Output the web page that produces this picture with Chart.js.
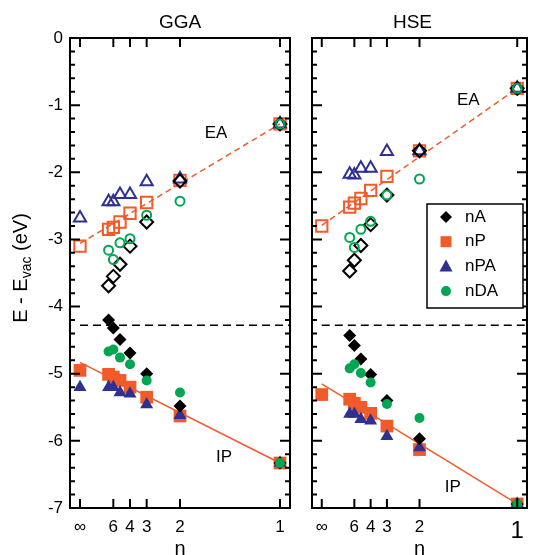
<!DOCTYPE html>
<html>
<head>
<meta charset="utf-8">
<script src="https://cdn.jsdelivr.net/npm/chart.js@4.4.0/dist/chart.umd.min.js"></script>
<style>
  body { margin: 0; background: #fff; }
  #wrap { position: relative; width: 537px; height: 555px; overflow: hidden; font-family: "Liberation Sans", Arial, sans-serif; }
  canvas { position: absolute; top: 0; }
  #ylab { position: absolute; left: -80px; top: 256px; width: 200px; height: 24px; line-height: 24px; text-align: center;
          font-size: 20px; color: #000; transform: rotate(-90deg); white-space: nowrap; }
  #ylab sub { font-size: 14px; line-height: 0; vertical-align: -4px; }
</style>
</head>
<body>
<div id="wrap">
  <canvas id="gga" width="300" height="555" style="left:0"></canvas>
  <canvas id="hse" width="247" height="555" style="left:290px"></canvas>
  <div id="ylab">E - E<sub>vac</sub> (eV)</div>
</div>
<script>
// chain length n for every point (x axis is 1/n, infinity at 0)
const nValues = [Infinity, 7, 6, 5, 4, 3, 2, 1];
const xTickN = [Infinity, 6, 4, 3, 2, 1];
const xTickLabels = ['∞', '6', '4', '3', '2', '1'];
const yTickValues = [0, -1, -2, -3, -4, -5, -6, -7];
const species = ['nA', 'nP', 'nPA', 'nDA'];

// GGA electron affinities (open markers)
const ggaEA_nA  = [null, -3.69, -3.55, -3.37, -3.10, -2.74, -2.13, -1.28];
const ggaEA_nP  = [-3.10, -2.85, -2.82, -2.74, -2.61, -2.45, -2.12, -1.28];
const ggaEA_nPA = [-2.68, -2.44, -2.44, -2.33, -2.33, -2.14, -2.10, -1.28];
const ggaEA_nDA = [null, -3.16, -3.30, -3.05, -2.99, -2.64, -2.43, -1.28];
// GGA ionisation potentials (filled markers)
const ggaIP_nA  = [null, -4.20, -4.32, -4.49, -4.69, -5.00, -5.48, -6.33];
const ggaIP_nP  = [-4.95, -5.01, -5.05, -5.10, -5.20, -5.35, -5.63, -6.33];
const ggaIP_nPA = [-5.20, -5.20, -5.20, -5.28, -5.30, -5.46, -5.62, -6.33];
const ggaIP_nDA = [null, -4.67, -4.64, -4.76, -4.86, -5.10, -5.28, -6.33];

// HSE
const hseEA_nA  = [null, -3.47, -3.31, -3.09, -2.78, -2.34, -1.68, -0.75];
const hseEA_nP  = [-2.80, -2.52, -2.46, -2.39, -2.27, -2.06, -1.68, -0.75];
const hseEA_nPA = [null, -2.03, -2.04, -1.94, -1.94, -1.69, -1.68, -0.75];
const hseEA_nDA = [null, -2.97, -3.12, -2.85, -2.73, -2.34, -2.10, -0.75];
const hseIP_nA  = [null, -4.43, -4.58, -4.78, -5.01, -5.40, -5.97, -6.94];
const hseIP_nP  = [-5.31, -5.38, -5.44, -5.50, -5.59, -5.78, -6.13, -6.94];
const hseIP_nPA = [null, -5.60, -5.60, -5.68, -5.70, -5.93, -6.10, -6.94];
const hseIP_nDA = [null, -4.92, -4.86, -4.99, -5.13, -5.45, -5.66, -6.94];

// fitted lines (value at 1/n = 0 and 1/n = 1)
const lineX = [0, 1];
const ggaEALine = [-3.06, -1.28];
const ggaIPLine = [-4.83, -6.33];
const hseEALine = [-2.79, -0.75];
const hseIPLine = [-5.15, -6.94];
const levelX = [0, 1.05];
const levelY = [-4.28, -4.28];

const ORANGE = '#f15a29';
const BLUE = '#2e3192';
const GREEN = '#00a651';

const style = {
  nA:  { shape: 'rectRot',  color: '#000', rOpen: 6.5, rFill: 6.5 },
  nP:  { shape: 'rect',     color: ORANGE, rOpen: 8,   rFill: 9 },
  nPA: { shape: 'triangle', color: BLUE,   rOpen: 7,   rFill: 7.5 },
  nDA: { shape: 'circle',   color: GREEN,  rOpen: 4.5, rFill: 5 }
};
const drawOrder = ['nDA', 'nA', 'nPA', 'nP']; // first = top-most

const invN = n => (n === Infinity ? 0 : 1 / n);
const toPoints = vals => nValues.map((n, i) => ({ x: invN(n), y: vals[i] })).filter(p => p.y !== null);
const toLine = (xs, ys) => xs.map((x, i) => ({ x, y: ys[i] }));

function buildDatasets(ea, ip, eaLine, ipLine) {
  const sets = [];
  drawOrder.forEach(sp => {
    const s = style[sp];
    sets.push({ label: sp + ' EA', data: toPoints(ea[sp]), pointStyle: s.shape, pointRadius: s.rOpen,
      pointBorderColor: s.color, pointBackgroundColor: 'rgba(0,0,0,0)', pointBorderWidth: 2 });
    sets.push({ label: sp + ' IP', data: toPoints(ip[sp]), pointStyle: s.shape, pointRadius: s.rFill,
      pointBorderColor: s.color, pointBackgroundColor: s.color, pointBorderWidth: 0 });
  });
  sets.push({ label: 'EA fit', data: toLine(lineX, eaLine), showLine: true, borderColor: ORANGE, borderWidth: 1.5,
    borderDash: [6, 4], pointRadius: 0 });
  sets.push({ label: 'IP fit', data: toLine(lineX, ipLine), showLine: true, borderColor: ORANGE, borderWidth: 1.5,
    pointRadius: 0 });
  sets.push({ label: 'level', data: toLine(levelX, levelY), showLine: true, borderColor: '#000', borderWidth: 1.5,
    borderDash: [8, 5], pointRadius: 0 });
  return sets;
}

function drawMarker(ctx, shape, x, y, color) {
  ctx.fillStyle = color;
  ctx.beginPath();
  if (shape === 'rectRot') { ctx.moveTo(x, y - 6); ctx.lineTo(x + 6, y); ctx.lineTo(x, y + 6); ctx.lineTo(x - 6, y); }
  else if (shape === 'rect') ctx.rect(x - 5.5, y - 5.5, 11, 11);
  else if (shape === 'triangle') { ctx.moveTo(x, y - 7); ctx.lineTo(x + 6.5, y + 5); ctx.lineTo(x - 6.5, y + 5); }
  else ctx.arc(x, y, 5, 0, Math.PI * 2);
  ctx.closePath();
  ctx.fill();
}

const framePlugin = {
  id: 'frame',
  afterDatasetsDraw(chart, args, opts) {
    const { ctx, chartArea: a, scales: { x, y } } = chart;
    ctx.save();
    ctx.strokeStyle = '#000';
    ctx.lineWidth = 2;
    ctx.beginPath();
    for (let i = 0; i <= 35; i++) {
      const py = y.getPixelForValue(-i / 5);
      const len = i % 5 === 0 ? 10 : 5;
      ctx.moveTo(a.left, py); ctx.lineTo(a.left + len, py);
      ctx.moveTo(a.right, py); ctx.lineTo(a.right - len, py);
    }
    xTickN.forEach(n => {
      const px = x.getPixelForValue(invN(n));
      ctx.moveTo(px, a.bottom); ctx.lineTo(px, a.bottom - 9);
      ctx.moveTo(px, a.top); ctx.lineTo(px, a.top + 9);
    });
    ctx.stroke();
    ctx.strokeRect(a.left, a.top, a.right - a.left, a.bottom - a.top);

    ctx.fillStyle = '#000';
    ctx.textAlign = 'center';
    ctx.textBaseline = 'middle';
    ctx.font = '17px "Liberation Sans", Arial, sans-serif';
    opts.notes.forEach(nt => ctx.fillText(nt.text, x.getPixelForValue(nt.x), y.getPixelForValue(nt.y)));
    ctx.font = '19px "Liberation Sans", Arial, sans-serif';
    ctx.fillText(opts.title, (a.left + a.right) / 2 + opts.titleShift, 23);

    if (opts.legend) {
      const bx = a.left + 115, by = 204;
      ctx.fillStyle = '#fff';
      ctx.fillRect(bx, by, 96, 104);
      ctx.lineWidth = 1.5;
      ctx.strokeRect(bx, by, 96, 104);
      ctx.textAlign = 'left';
      ctx.font = '17px "Liberation Sans", Arial, sans-serif';
      species.forEach((sp, i) => {
        const ry = by + 13 + i * 24.7;
        drawMarker(ctx, style[sp].shape, bx + 19, ry, style[sp].color);
        ctx.fillStyle = '#000';
        ctx.fillText(sp, bx + 38, ry);
      });
    }
    ctx.restore();
  }
};

function makeChart(id, datasets, panel) {
  return new Chart(document.getElementById(id), {
    type: 'scatter',
    data: { datasets },
    plugins: [framePlugin],
    options: {
      responsive: false,
      animation: false,
      events: [],
      layout: { padding: { top: 38, right: panel.padRight, bottom: 0, left: 0 } },
      plugins: {
        legend: { display: false },
        tooltip: { enabled: false },
        frame: { notes: panel.notes, title: panel.title, titleShift: panel.titleShift, legend: panel.legend }
      },
      scales: {
        x: {
          type: 'linear', min: -0.05, max: 1.05,
          afterBuildTicks: s => { s.ticks = xTickN.map(n => ({ value: invN(n) })); },
          ticks: {
            autoSkip: false, maxRotation: 0, padding: 9, color: '#000',
            callback: (v, i) => xTickLabels[i],
            font: c => ({ family: '"Liberation Sans", Arial, sans-serif', size: panel.bigOne && c.index === 5 ? 24 : 17 })
          },
          grid: { display: false, drawTicks: false },
          border: { display: false },
          title: { display: true, text: 'n', color: '#000', padding: { top: 0, bottom: -6 },
                   font: { family: '"Liberation Sans", Arial, sans-serif', size: 20 } },
          afterFit: s => { s.height = 47; }
        },
        y: {
          type: 'linear', min: -7, max: 0,
          afterBuildTicks: s => { s.ticks = yTickValues.map(v => ({ value: v })); },
          ticks: {
            display: panel.yLabels, padding: 7, color: '#000',
            callback: v => String(v),
            font: { family: '"Liberation Sans", Arial, sans-serif', size: 17 }
          },
          grid: { display: false, drawTicks: false },
          border: { display: false },
          afterFit: s => { s.width = panel.yWidth; }
        }
      }
    }
  });
}

makeChart('gga',
  buildDatasets(
    { nA: ggaEA_nA, nP: ggaEA_nP, nPA: ggaEA_nPA, nDA: ggaEA_nDA },
    { nA: ggaIP_nA, nP: ggaIP_nP, nPA: ggaIP_nPA, nDA: ggaIP_nDA },
    ggaEALine, ggaIPLine),
  { title: 'GGA', titleShift: 0, padRight: 5, yWidth: 70, yLabels: true, legend: false, bigOne: false,
    notes: [{ text: 'EA', x: 0.68, y: -1.42 }, { text: 'IP', x: 0.72, y: -6.25 }] });

makeChart('hse',
  buildDatasets(
    { nA: hseEA_nA, nP: hseEA_nP, nPA: hseEA_nPA, nDA: hseEA_nDA },
    { nA: hseIP_nA, nP: hseIP_nP, nPA: hseIP_nPA, nDA: hseIP_nDA },
    hseEALine, hseIPLine),
  { title: 'HSE', titleShift: -7, padRight: 2, yWidth: 22, yLabels: false, legend: true, bigOne: true,
    notes: [{ text: 'EA', x: 0.75, y: -0.93 }, { text: 'IP', x: 0.67, y: -6.69 }] });
</script>
</body>
</html>
